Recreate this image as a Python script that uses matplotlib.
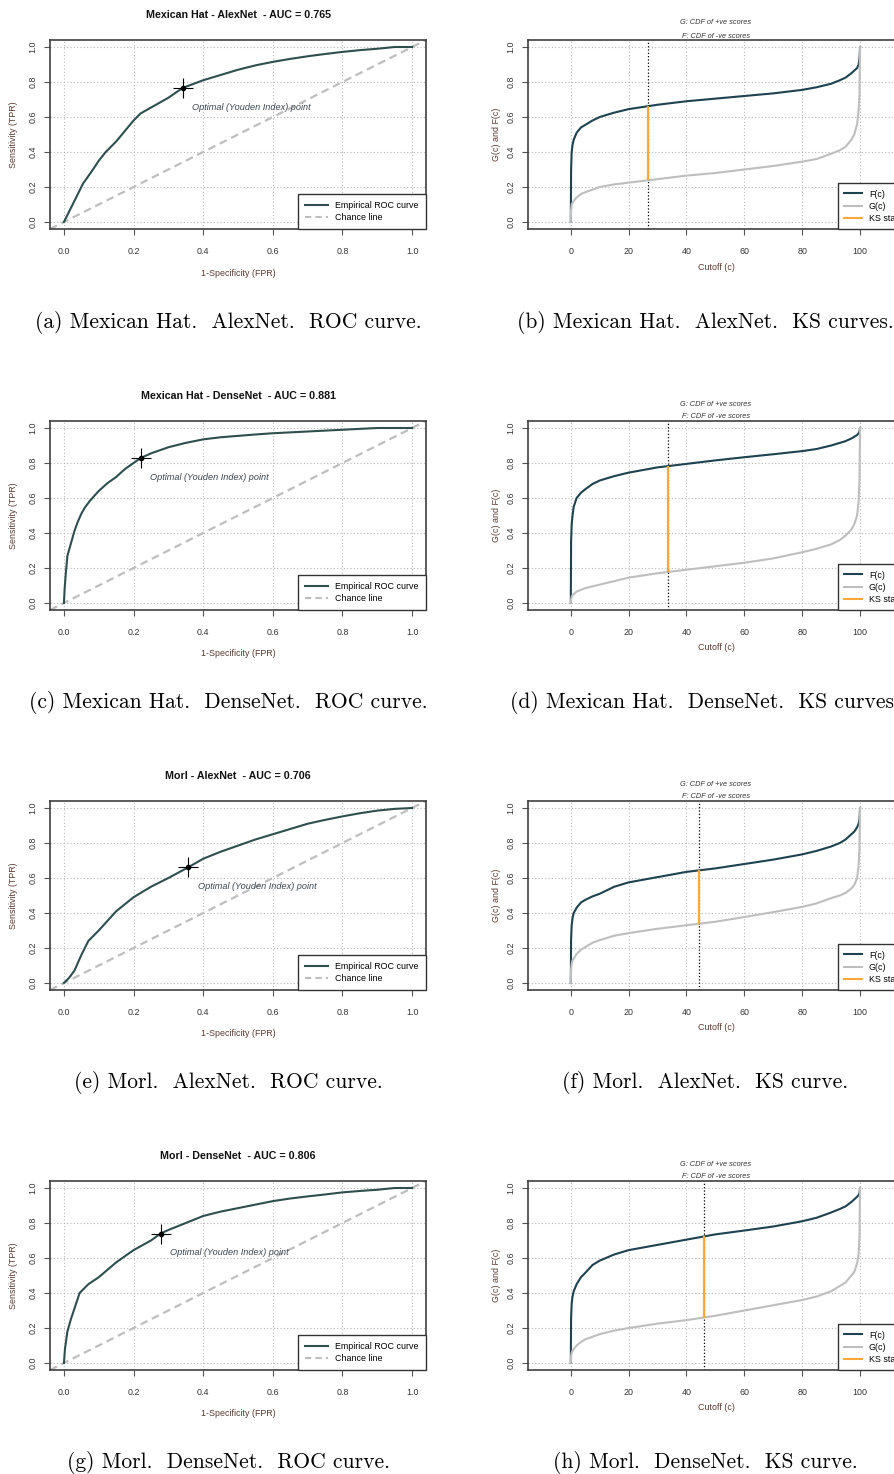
import numpy as np
import matplotlib
matplotlib.use("Agg")
import matplotlib.pyplot as plt
from matplotlib.lines import Line2D

plt.rcParams['font.family'] = ['Liberation Sans', 'DejaVu Sans']

# ---- ROC data ----
roc_titles = ["Mexican Hat - AlexNet  - AUC = 0.765",
              "Mexican Hat - DenseNet  - AUC = 0.881",
              "Morl - AlexNet  - AUC = 0.706",
              "Morl - DenseNet  - AUC = 0.806"]

mh_alex_fpr = [0, 0.01, 0.02, 0.035, 0.055, 0.08, 0.1, 0.12, 0.15, 0.2, 0.22, 0.26, 0.3, 0.341,
               0.4, 0.45, 0.5, 0.55, 0.6, 0.65, 0.7, 0.75, 0.8, 0.85, 0.9, 0.95, 1.0]
mh_alex_tpr = [0, 0.04, 0.08, 0.14, 0.22, 0.29, 0.35, 0.40, 0.46, 0.58, 0.62, 0.665, 0.71, 0.766,
               0.81, 0.84, 0.87, 0.895, 0.915, 0.932, 0.947, 0.96, 0.972, 0.982, 0.99, 1.0, 1.0]

mh_dense_fpr = [0, 0.002, 0.005, 0.01, 0.02, 0.03, 0.04, 0.05, 0.06, 0.075, 0.1, 0.125, 0.15, 0.175,
                0.2, 0.22, 0.25, 0.3, 0.35, 0.4, 0.45, 0.5, 0.55, 0.6, 0.65, 0.7, 0.75, 0.8, 0.85,
                0.9, 1.0]
mh_dense_tpr = [0, 0.08, 0.16, 0.27, 0.34, 0.41, 0.465, 0.51, 0.545, 0.585, 0.64, 0.685, 0.72, 0.765,
                0.80, 0.828, 0.855, 0.89, 0.915, 0.935, 0.947, 0.955, 0.963, 0.97, 0.975, 0.98, 0.985,
                0.99, 0.995, 1.0, 1.0]

morl_alex_fpr = [0, 0.015, 0.03, 0.05, 0.07, 0.1, 0.15, 0.2, 0.25, 0.3, 0.357, 0.4, 0.45, 0.5,
                 0.55, 0.6, 0.65, 0.7, 0.75, 0.8, 0.85, 0.9, 0.95, 1.0]
morl_alex_tpr = [0, 0.03, 0.07, 0.16, 0.24, 0.30, 0.41, 0.49, 0.55, 0.60, 0.661, 0.71, 0.75, 0.785,
                 0.82, 0.85, 0.88, 0.91, 0.932, 0.952, 0.97, 0.985, 0.995, 1.0]

morl_dense_fpr = [0, 0.003, 0.01, 0.02, 0.03, 0.045, 0.07, 0.1, 0.15, 0.2, 0.25, 0.278, 0.3, 0.35,
                  0.4, 0.45, 0.5, 0.55, 0.6, 0.65, 0.7, 0.75, 0.8, 0.85, 0.9, 0.95, 1.0]
morl_dense_tpr = [0, 0.08, 0.18, 0.25, 0.31, 0.40, 0.45, 0.49, 0.575, 0.645, 0.70, 0.74, 0.76, 0.80,
                  0.84, 0.865, 0.885, 0.905, 0.925, 0.94, 0.952, 0.963, 0.975, 0.983, 0.99, 1.0, 1.0]

roc_fpr = [mh_alex_fpr, mh_dense_fpr, morl_alex_fpr, morl_dense_fpr]
roc_tpr = [mh_alex_tpr, mh_dense_tpr, morl_alex_tpr, morl_dense_tpr]
opt_fpr = [0.341, 0.22, 0.357, 0.278]
opt_tpr = [0.766, 0.828, 0.661, 0.740]

# ---- KS data ----
cutoff = [0, 0.1, 0.3, 0.6, 1, 2, 3.5, 5, 7.5, 10, 15, 20, 30, 40, 50, 60, 70, 80, 85, 90,
          93, 95, 97, 98, 99, 99.5, 99.8, 100]

F_mh_alex = [0, 0.30, 0.40, 0.44, 0.47, 0.51, 0.54, 0.555, 0.58, 0.60, 0.625, 0.645, 0.67, 0.69,
             0.705, 0.72, 0.735, 0.755, 0.77, 0.79, 0.81, 0.825, 0.85, 0.865, 0.88, 0.90, 0.93, 1.0]
G_mh_alex = [0, 0.07, 0.10, 0.11, 0.12, 0.14, 0.16, 0.17, 0.185, 0.20, 0.215, 0.225, 0.245, 0.265,
             0.28, 0.30, 0.32, 0.345, 0.36, 0.39, 0.41, 0.43, 0.47, 0.50, 0.56, 0.64, 0.72, 1.0]

F_mh_dense = [0, 0.35, 0.45, 0.50, 0.55, 0.60, 0.63, 0.65, 0.68, 0.70, 0.725, 0.745, 0.775, 0.795,
              0.815, 0.833, 0.85, 0.868, 0.88, 0.90, 0.915, 0.925, 0.94, 0.95, 0.96, 0.97, 0.98, 1.0]
G_mh_dense = [0, 0.02, 0.035, 0.045, 0.05, 0.065, 0.075, 0.085, 0.095, 0.105, 0.125, 0.145, 0.17, 0.19,
              0.21, 0.23, 0.255, 0.29, 0.31, 0.335, 0.36, 0.385, 0.42, 0.45, 0.50, 0.58, 0.70, 1.0]

F_morl_alex = [0, 0.25, 0.33, 0.37, 0.40, 0.43, 0.46, 0.475, 0.495, 0.51, 0.55, 0.575, 0.605, 0.635,
               0.655, 0.68, 0.705, 0.735, 0.755, 0.78, 0.80, 0.82, 0.85, 0.865, 0.89, 0.91, 0.93, 1.0]
G_morl_alex = [0, 0.08, 0.11, 0.13, 0.14, 0.165, 0.19, 0.205, 0.23, 0.245, 0.27, 0.285, 0.31, 0.33,
               0.35, 0.377, 0.405, 0.435, 0.455, 0.485, 0.50, 0.515, 0.54, 0.56, 0.60, 0.67, 0.77, 1.0]

F_morl_dense = [0, 0.26, 0.34, 0.38, 0.41, 0.45, 0.49, 0.515, 0.56, 0.585, 0.62, 0.645, 0.675, 0.705,
                0.735, 0.757, 0.78, 0.81, 0.83, 0.86, 0.88, 0.895, 0.92, 0.935, 0.95, 0.96, 0.97, 1.0]
G_morl_dense = [0, 0.04, 0.06, 0.07, 0.08, 0.10, 0.12, 0.135, 0.15, 0.165, 0.185, 0.20, 0.225, 0.245,
                0.27, 0.30, 0.33, 0.36, 0.38, 0.41, 0.44, 0.46, 0.50, 0.52, 0.57, 0.62, 0.72, 1.0]

ks_F = [F_mh_alex, F_mh_dense, F_morl_alex, F_morl_dense]
ks_G = [G_mh_alex, G_mh_dense, G_morl_alex, G_morl_dense]
ks_cut = [26.7, 33.5, 44.2, 46.0]

captions_left = ["(a) Mexican Hat.  AlexNet.  ROC curve.",
                 "(c) Mexican Hat.  DenseNet.  ROC curve.",
                 "(e) Morl.  AlexNet.  ROC curve.",
                 "(g) Morl.  DenseNet.  ROC curve."]
captions_right = ["(b) Mexican Hat.  AlexNet.  KS curves.",
                  "(d) Mexican Hat.  DenseNet.  KS curves.",
                  "(f) Morl.  AlexNet.  KS curve.",
                  "(h) Morl.  DenseNet.  KS curve."]

# ---- layout (pixels) ----
W, H = 894, 1474
row_top = [40, 421, 801, 1181]
box_h = 189
roc_l, roc_r = 50, 426
ks_l, ks_r = 528, 904

curve_col = '#2F4F4F'
f_col = '#1E4250'
g_col = '#BEBEBE'
ks_col = '#FFA83A'
lab_col = '#5A3A30'
tick_col = '#333333'
fs = 6.4

fig = plt.figure(figsize=(W / 100, H / 100), dpi=100)


def add_box(l, t, r, b):
    return fig.add_axes([l / W, 1 - b / H, (r - l) / W, (b - t) / H])


def ftext(x, y, s, **kw):
    fig.text(x / W, 1 - y / H, s, **kw)


def style(ax):
    for sp in ax.spines.values():
        sp.set_color('#404040')
        sp.set_linewidth(1.2)
    ax.tick_params(direction='out', length=4, width=0.8, color='#555555',
                   labelsize=fs, labelcolor=tick_col)
    ax.tick_params(axis='x', pad=9)
    ax.tick_params(axis='y', pad=5)
    for lab in ax.get_yticklabels():
        lab.set_rotation(90)
        lab.set_va('center')
    ax.grid(True, color='#B8B8B8', linestyle=(0, (1, 2)), linewidth=0.8)
    ax.set_axisbelow(True)


for i in range(4):
    top = row_top[i]
    bot = top + box_h

    # ROC panel
    ax = add_box(roc_l, top, roc_r, bot)
    ax.set_xlim(-0.04, 1.04)
    ax.set_ylim(-0.04, 1.04)
    ax.set_xticks(np.arange(0, 1.01, 0.2))
    ax.set_yticks(np.arange(0, 1.01, 0.2))
    ax.set_xticklabels(['0.0', '0.2', '0.4', '0.6', '0.8', '1.0'])
    ax.set_yticklabels(['0.0', '0.2', '0.4', '0.6', '0.8', '1.0'])
    style(ax)
    ax.axline((0, 0), (1, 1), color=g_col, lw=1.6, dashes=(3.5, 2.2))
    ax.plot(roc_fpr[i], roc_tpr[i], color=curve_col, lw=1.5)
    ax.plot(opt_fpr[i], opt_tpr[i], marker='+', ms=15, mew=0.8, color='black')
    ax.plot(opt_fpr[i], opt_tpr[i], marker='o', ms=3, color='black')
    ax.text(opt_fpr[i] + 0.028, opt_tpr[i] - 0.109, "Optimal (Youden Index) point",
            fontsize=6.6, style='italic', color='#3A4650', va='center', ha='left')
    handles = [Line2D([], [], color=curve_col, lw=1.5),
               Line2D([], [], color=g_col, lw=1.5, dashes=(3, 2))]
    leg = ax.legend(handles, ["Empirical ROC curve", "Chance line"], loc='lower right',
                    bbox_to_anchor=(1, 0), borderaxespad=0, fontsize=fs, fancybox=False,
                    framealpha=1, edgecolor='#333333', handlelength=2.6, labelspacing=0.3,
                    borderpad=0.8, handletextpad=0.8)
    leg.get_frame().set_linewidth(1.0)
    ftext((roc_l + roc_r) / 2, top - 25, roc_titles[i], fontsize=7.7, fontweight='bold',
          ha='center', va='center', color='#111111')
    ftext((roc_l + roc_r) / 2, top + 233, "1-Specificity (FPR)", fontsize=fs,
          ha='center', va='center', color=lab_col)
    ftext(14, top + box_h / 2, "Sensitivity (TPR)", fontsize=fs, rotation=90,
          ha='center', va='center', color=lab_col)

    # KS panel
    ax = add_box(ks_l, top, ks_r, bot)
    ax.set_xlim(-14.8, 115.2)
    ax.set_ylim(-0.04, 1.04)
    ax.set_xticks([0, 20, 40, 60, 80, 100])
    ax.set_yticks(np.arange(0, 1.01, 0.2))
    ax.set_yticklabels(['0.0', '0.2', '0.4', '0.6', '0.8', '1.0'])
    style(ax)
    ax.plot(cutoff, ks_F[i], color=f_col, lw=1.5)
    ax.plot(cutoff, ks_G[i], color=g_col, lw=1.5)
    ax.axvline(ks_cut[i], color='black', ls=':', lw=0.9)
    lo = np.interp(ks_cut[i], cutoff, ks_G[i])
    hi = np.interp(ks_cut[i], cutoff, ks_F[i])
    ax.vlines(ks_cut[i], lo, hi, color=ks_col, lw=1.6)
    handles = [Line2D([], [], color=f_col, lw=1.5),
               Line2D([], [], color=g_col, lw=1.5),
               Line2D([], [], color=ks_col, lw=1.5)]
    leg = ax.legend(handles, ["F(c)", "G(c)", "KS stat"], loc='lower right',
                    bbox_to_anchor=(1, 0), borderaxespad=0, fontsize=fs, fancybox=False,
                    framealpha=1, edgecolor='#333333', handlelength=2.0, labelspacing=0.35,
                    borderpad=0.7, handletextpad=0.8)
    leg.get_frame().set_linewidth(1.0)
    ftext((ks_l + ks_r) / 2, top - 17, "G: CDF of +ve scores", fontsize=5.3, style='italic',
          ha='center', va='center', color='#333333')
    ftext((ks_l + ks_r) / 2, top - 4, "F: CDF of -ve scores", fontsize=5.3, style='italic',
          ha='center', va='center', color='#333333')
    ftext((ks_l + ks_r) / 2, top + 227, "Cutoff (c)", fontsize=fs,
          ha='center', va='center', color=lab_col)
    ftext(497, top + box_h / 2, "G(c) and F(c)", fontsize=fs, rotation=90,
          ha='center', va='center', color=lab_col)

    # captions
    ftext(228, top + 282, captions_left[i], family='cmr10', fontsize=15.5,
          ha='center', va='center', color='black')
    ftext(705, top + 282, captions_right[i], family='cmr10', fontsize=15.5,
          ha='center', va='center', color='black')

fig.savefig('out.png', dpi=100)
